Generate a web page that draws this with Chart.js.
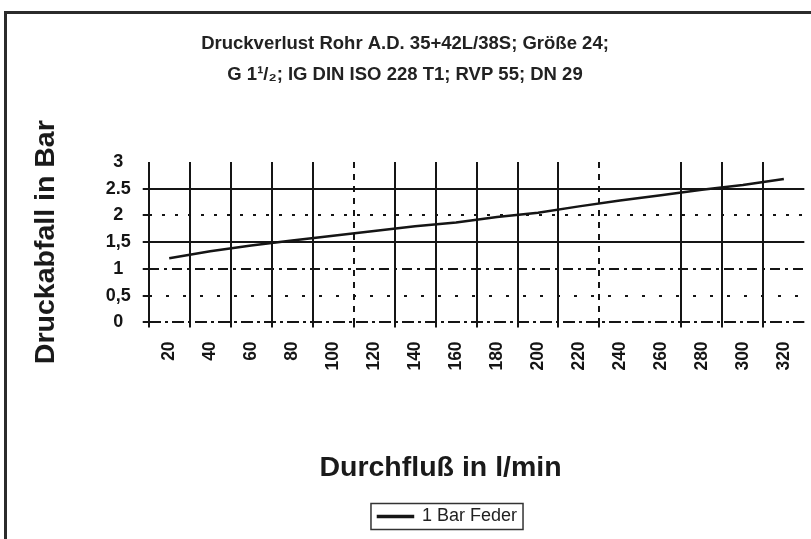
<!DOCTYPE html>
<html>
<head>
<meta charset="utf-8">
<script src="https://cdn.jsdelivr.net/npm/chart.js@4"></script>
<style>
html,body{margin:0;padding:0;background:#fff;overflow:hidden}
#wrap{position:relative;width:811px;height:539px}
#frame{position:absolute;left:4px;top:11px;width:900px;height:600px;border-left:3px solid #2b2b2b;border-top:3px solid #2b2b2b;pointer-events:none}
canvas{position:absolute;left:0;top:0}
</style>
</head>
<body>
<div id="wrap"><canvas id="c" width="811" height="539"></canvas><div id="frame"></div></div>
<script>
// ---- data ----
const chartTitle = ['Druckverlust Rohr A.D. 35+42L/38S; Größe 24;', 'G 1¹/₂; IG DIN ISO 228 T1; RVP 55; DN 29'];
const xTitle = 'Durchfluß in l/min';
const yTitle = 'Druckabfall in Bar';
const seriesName = '1 Bar Feder';
const flowLabels = ['20','40','60','80','100','120','140','160','180','200','220','240','260','280','300','320'];
const pressureDrop = [1.20,1.33,1.44,1.53,1.62,1.71,1.80,1.87,1.97,2.05,2.17,2.28,2.38,2.48,2.57,2.68];
const yTickValues = [0,0.5,1,1.5,2,2.5,3];
const yTickLabels = ['0','0,5','1','1,5','2','2.5','3'];

// ---- styling helpers ----
const FONT = '"Liberation Sans", Arial, sans-serif';
const INK = '#151515';
const yDash = {0:[12,4,3,4], 0.5:[3,14], 1:[10,5,3,5], 1.5:[], 2:[3,10], 2.5:[]};
const xDashed = [5, 11];
const xHidden = [12];

const layoutTweaks = {
  id: 'layoutTweaks',
  afterLayout(chart) {
    const lg = chart.legend;
    if (lg) {
      const dx = 447.5 - (lg.left + lg.right) / 2;
      lg.left += dx; lg.right += dx;
    }
  },
  beforeDraw(chart) {
    const xs = chart.scales.x;
    if (xs && !xs._shiftedTitle) {
      const orig = xs.drawTitle;
      xs.drawTitle = function () {
        this.ctx.save();
        this.ctx.translate(-36, 0);
        orig.call(this);
        this.ctx.restore();
      };
      xs._shiftedTitle = true;
    }
  },
  afterDraw(chart) {
    const lg = chart.legend;
    if (!lg || !lg.legendHitBoxes || !lg.legendHitBoxes.length) return;
    const hb = lg.legendHitBoxes[0];
    const ctx = chart.ctx;
    ctx.save();
    ctx.strokeStyle = '#333';
    ctx.lineWidth = 1.5;
    ctx.strokeRect(hb.left - 7, hb.top - 4, hb.width + 13, hb.height + 8);
    ctx.restore();
  }
};

new Chart(document.getElementById('c'), {
  type: 'line',
  data: {
    labels: flowLabels,
    datasets: [{
      label: seriesName,
      data: pressureDrop,
      borderColor: INK,
      backgroundColor: INK,
      borderWidth: 2.5,
      pointRadius: 0,
      tension: 0
    }]
  },
  options: {
    responsive: false,
    animation: false,
    devicePixelRatio: 1,
    layout: { padding: { left: 0, right: 1, top: 0, bottom: 3.5 } },
    plugins: {
      title: {
        display: true,
        text: chartTitle,
        color: '#222',
        font: { family: FONT, size: 18.5, weight: 'bold', lineHeight: 31/18.5 },
        padding: { top: 28.5, bottom: 71.5 }
      },
      legend: {
        display: true,
        position: 'bottom',
        labels: {
          color: '#222',
          font: { family: FONT, size: 18 },
          boxWidth: 35,
          boxHeight: 1,
          padding: 10
        }
      },
      tooltip: { enabled: false }
    },
    scales: {
      x: {
        type: 'category',
        offset: true,
        grid: {
          offset: true,
          drawOnChartArea: true,
          drawTicks: true,
          tickLength: 5,
          lineWidth: 2,
          color: (c) => {
            if (c.tick === undefined || c.index === undefined) return 'rgba(0,0,0,0)';
            if (xHidden.includes(c.index)) return 'rgba(0,0,0,0)';
            return INK;
          }
        },
        border: {
          display: false,
          dash: (c) => (c.index !== undefined && xDashed.includes(c.index)) ? [6, 6] : []
        },
        ticks: {
          autoSkip: false,
          minRotation: 90,
          maxRotation: 90,
          padding: 14,
          color: INK,
          font: { family: FONT, size: 17.5, weight: 'bold', lineHeight: 0.75 }
        },
        title: {
          display: true,
          text: xTitle,
          color: '#1a1a1a',
          font: { family: FONT, size: 28.5, weight: 'bold' },
          padding: { top: 66, bottom: 12.7 }
        }
      },
      y: {
        type: 'linear',
        min: 0,
        max: 3,
        afterBuildTicks: (scale) => { scale.ticks = yTickValues.map(v => ({ value: v })); },
        grid: {
          drawTicks: true,
          tickLength: 6,
          lineWidth: 2,
          color: (c) => (c.tick && c.tick.value === 3) ? 'rgba(0,0,0,0)' : INK
        },
        border: {
          display: false,
          dash: (c) => (c.tick && yDash[c.tick.value]) ? yDash[c.tick.value] : []
        },
        ticks: {
          crossAlign: 'center',
          padding: 12,
          color: INK,
          font: { family: FONT, size: 18, weight: 'bold' },
          callback: (value) => {
            const i = yTickValues.indexOf(value);
            return i >= 0 ? yTickLabels[i] : '';
          }
        },
        title: {
          display: true,
          text: yTitle,
          color: '#1a1a1a',
          font: { family: FONT, size: 28.5, weight: 'bold' },
          padding: { top: 29.5, bottom: 30 }
        }
      }
    }
  },
  plugins: [layoutTweaks]
});
</script>
</body>
</html>
